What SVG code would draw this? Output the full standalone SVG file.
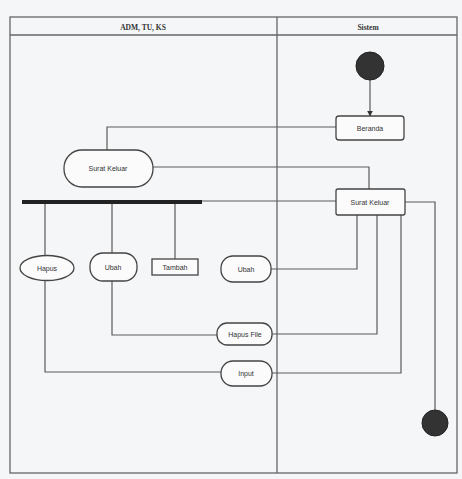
<svg xmlns="http://www.w3.org/2000/svg" width="462" height="479" viewBox="0 0 462 479">
<style>
.ln{fill:none;stroke:#5a5a5a;stroke-width:1.2}
.nd{fill:#fbfbfc;stroke:#444;stroke-width:1.3}
.tx{font-family:"Liberation Sans",Arial,sans-serif;font-size:7px;fill:#333;text-anchor:middle;dominant-baseline:central}
.hd{font-family:"Liberation Serif","Times New Roman",serif;font-size:7.5px;font-weight:bold;fill:#333;text-anchor:middle;dominant-baseline:central}
.dot{fill:#333;stroke:#222;stroke-width:1}
</style>
<defs>
<marker id="arr" viewBox="0 0 10 10" refX="9" refY="5" markerWidth="5" markerHeight="5" orient="auto"><path d="M0,0 L10,5 L0,10 z" fill="#333"/></marker>
</defs>
<rect x="0" y="0" width="462" height="479" fill="#f5f6f8"/>
<g id="frame">
<rect x="10" y="17" width="447" height="456" fill="none" stroke="#666" stroke-width="1.3"/>
<line x1="10" y1="35" x2="457" y2="35" stroke="#666" stroke-width="1.3"/>
<line x1="277" y1="17" x2="277" y2="473" stroke="#666" stroke-width="1.3"/>
<text class="hd" x="143" y="27">ADM, TU, KS</text>
<text class="hd" x="368" y="27">Sistem</text>
</g>
<g id="connectors">
<line class="ln" x1="370" y1="80" x2="370" y2="116" marker-end="url(#arr)"/>
<polyline class="ln" points="336,127 107,127 107,150"/>
<polyline class="ln" points="153,167 369,167 369,189"/>
<line class="ln" x1="202" y1="201" x2="336" y2="201"/>
<polyline class="ln" points="405,202 435,202 435,410"/>
<line class="ln" x1="45" y1="202" x2="45" y2="255"/>
<line class="ln" x1="112" y1="202" x2="112" y2="253"/>
<line class="ln" x1="175" y1="202" x2="175" y2="259"/>
<polyline class="ln" points="271,269 357,269 357,215"/>
<polyline class="ln" points="272,334 377,334 377,215"/>
<polyline class="ln" points="272,373 401,373 401,215"/>
<polyline class="ln" points="217,335 112,335 112,281"/>
<polyline class="ln" points="221,372 45,372 45,280"/>
</g>
<g id="start"><circle class="dot" cx="370" cy="66" r="14"/></g>
<g id="beranda"><rect class="nd" x="336" y="116" width="68" height="24" rx="3"/><text class="tx" x="370" y="128">Beranda</text></g>
<g id="surat-keluar-user"><rect class="nd" x="64" y="150" width="89" height="37" rx="18"/><text class="tx" x="108" y="168">Surat Keluar</text></g>
<g id="surat-keluar-sistem"><rect class="nd" x="336" y="189" width="69" height="26" rx="2"/><text class="tx" x="370" y="202">Surat Keluar</text></g>
<g id="fork"><rect x="22" y="200" width="180" height="4" fill="#222"/></g>
<g id="hapus"><ellipse class="nd" cx="47" cy="268" rx="27" ry="12.5"/><text class="tx" x="47" y="268">Hapus</text></g>
<g id="ubah-user"><rect class="nd" x="90" y="253" width="47" height="28" rx="13"/><text class="tx" x="113" y="267">Ubah</text></g>
<g id="tambah"><rect class="nd" x="152" y="259" width="46" height="16"/><text class="tx" x="175" y="267">Tambah</text></g>
<g id="ubah-sistem"><rect class="nd" x="221" y="256" width="50" height="26" rx="12"/><text class="tx" x="246" y="269">Ubah</text></g>
<g id="hapus-file"><rect class="nd" x="217" y="323" width="55" height="22" rx="10"/><text class="tx" x="245" y="334">Hapus File</text></g>
<g id="input"><rect class="nd" x="221" y="361" width="51" height="25" rx="12"/><text class="tx" x="246" y="373">Input</text></g>
<g id="end"><circle class="dot" cx="435" cy="423" r="13"/></g>
</svg>
